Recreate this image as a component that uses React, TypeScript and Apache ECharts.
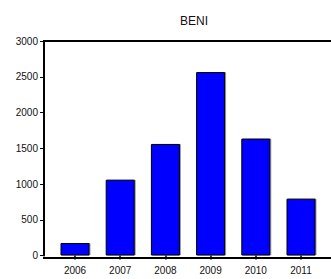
import React, { useEffect, useRef } from "react";
import * as echarts from "echarts";

const categories = ["2006", "2007", "2008", "2009", "2010", "2011"];
const values = [175, 1060, 1560, 2565, 1635, 795];
const yTicks = { min: 0, max: 3000, interval: 500 };
const title = "BENI";

export default function App() {
  const ref = useRef<HTMLDivElement>(null);
  useEffect(() => {
    if (!ref.current) return;
    const chart = echarts.init(ref.current, undefined, { renderer: "svg" });
    const font = "'Liberation Sans', Arial, sans-serif";
    chart.setOption({
      animation: false,
      backgroundColor: "#ffffff",
      title: {
        text: title,
        left: 189,
        top: 10,
        textAlign: "center",
        textStyle: { fontFamily: font, fontSize: 12, fontWeight: "normal", color: "#111" },
      },
      grid: { left: 52.4, right: 7.4, top: 41, bottom: 23.5 },
      xAxis: {
        type: "category",
        data: categories,
        offset: 2,
        axisLine: { show: false },
        axisTick: { show: true, alignWithLabel: true, length: 4, lineStyle: { color: "#000", width: 1.5 } },
        axisLabel: { fontFamily: font, fontSize: 10, color: "#111", margin: 8 },
      },
      yAxis: {
        type: "value",
        min: yTicks.min,
        max: yTicks.max,
        interval: yTicks.interval,
        offset: 8.4,
        axisLine: { show: true, lineStyle: { color: "#000", width: 2 } },
        axisTick: { show: true, length: 4, lineStyle: { color: "#000", width: 1 } },
        axisLabel: { fontFamily: font, fontSize: 10, color: "#111", margin: 6, formatter: (v: number) => String(v) },
        splitLine: { show: false },
      },
      graphic: [
        { type: "line", shape: { x1: 43, y1: 41, x2: 331, y2: 41 }, style: { stroke: "#000", lineWidth: 2 } },
        { type: "line", shape: { x1: 43, y1: 258, x2: 331, y2: 258 }, style: { stroke: "#000", lineWidth: 2 } },
      ],
      series: [
        {
          type: "bar",
          data: values,
          barWidth: 29,
          itemStyle: {
            color: "#0000ff",
            borderColor: "#000",
            borderWidth: 1,
            shadowColor: "rgba(0,0,0,0.4)",
            shadowOffsetX: 1,
            shadowBlur: 0,
          },
        },
      ],
    });
    return () => chart.dispose();
  }, []);
  return (
    <div
      ref={ref}
      style={{ width: 331, height: 279, position: "absolute", left: 0, top: 0 }}
    />
  );
}
